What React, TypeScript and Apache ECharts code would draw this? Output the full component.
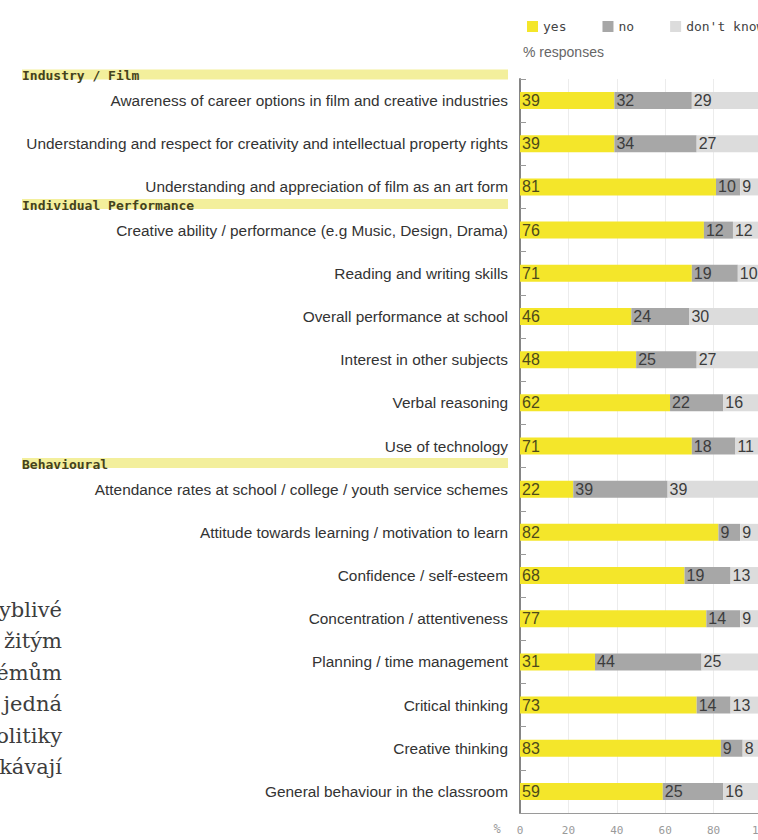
import React, { useEffect, useRef } from "react";
import * as echarts from "echarts";

const categories = [
  "Awareness of career options in film and creative industries",
  "Understanding and respect for creativity and intellectual property rights",
  "Understanding and appreciation of film as an art form",
  "Creative ability / performance (e.g Music, Design, Drama)",
  "Reading and writing skills",
  "Overall performance at school",
  "Interest in other subjects",
  "Verbal reasoning",
  "Use of technology",
  "Attendance rates at school / college / youth service schemes",
  "Attitude towards learning / motivation to learn",
  "Confidence / self-esteem",
  "Concentration / attentiveness",
  "Planning / time management",
  "Critical thinking",
  "Creative thinking",
  "General behaviour in the classroom",
];
const yesValues = [39, 39, 81, 76, 71, 46, 48, 62, 71, 22, 82, 68, 77, 31, 73, 83, 59];
const noValues = [32, 34, 10, 12, 19, 24, 25, 22, 18, 39, 9, 19, 14, 44, 14, 9, 25];
const dontKnowValues = [29, 27, 9, 12, 10, 30, 27, 16, 11, 39, 9, 13, 9, 25, 13, 8, 16];
const seriesNames = ["yes", "no", "don't know"];
const xMin = 0;
const xMax = 100;
const xInterval = 20;
const sectionTitles = ["Industry / Film", "Individual Performance", "Behavioural"];
const sectionStartIndex = [0, 3, 9];
const sideTextLines = ["yblivé", "žitým", "émům", "jedná", "olitiky", "kávají"];

const YELLOW = "#f4e62a";
const GREY = "#a7a7a7";
const LIGHT = "#dcdcdc";
const MONO = "'DejaVu Sans Mono', monospace";
const SANS = "'Liberation Sans', Arial, sans-serif";

export default function App() {
  const ref = useRef<HTMLDivElement>(null);
  useEffect(() => {
    if (!ref.current) return;
    const chart = echarts.init(ref.current, null, { renderer: "svg" });
    const labelCfg = (color: string) => ({
      show: true,
      position: "insideLeft" as const,
      distance: 2,
      color,
      fontFamily: SANS,
      fontSize: 16,
      formatter: "{c}",
    });
    const colors = [YELLOW, GREY, LIGHT];
    const values = [yesValues, noValues, dontKnowValues];
    const labelColors = ["#4d4a1a", "#3c3c3c", "#3c3c3c"];
    chart.setOption({
      animation: false,
      color: colors,
      legend: {
        left: 522,
        top: 15,
        icon: "rect",
        itemWidth: 11,
        itemHeight: 11,
        itemGap: 36,
        textStyle: { fontFamily: MONO, fontSize: 13, color: "#444" },
        data: seriesNames,
      },
      grid: { left: 520, top: 79, width: 242, height: 734, outerBoundsMode: "none" },
      xAxis: {
        type: "value",
        min: xMin,
        max: xMax,
        interval: xInterval,
        axisLine: { show: true, lineStyle: { color: "#9a9a9a", width: 1 } },
        axisTick: { show: false },
        axisLabel: { color: "#9a9a9a", fontFamily: MONO, fontSize: 11, margin: 12 },
        splitLine: { show: true, lineStyle: { color: "#ececec", width: 1 } },
      },
      yAxis: {
        type: "category",
        inverse: true,
        data: categories,
        axisLine: { show: true, lineStyle: { color: "#858585", width: 2 } },
        axisTick: { show: true, inside: true, length: 6, lineStyle: { color: "#999", width: 1 } },
        axisLabel: { color: "#333", fontFamily: SANS, fontSize: 15.4, margin: 12, padding: [0, 0, 4, 0] },
        splitLine: { show: false },
      },
      series: seriesNames.map((name, i) => ({
        name,
        type: "bar",
        stack: "total",
        barWidth: 17,
        data: values[i],
        itemStyle: { color: colors[i] },
        label: labelCfg(labelColors[i]),
      })),
    });

    const c0 = chart.convertToPixel({ yAxisIndex: 0 }, 0) as number;
    const c1 = chart.convertToPixel({ yAxisIndex: 0 }, 1) as number;
    const band = c1 - c0;
    const graphics: any[] = [];
    sectionTitles.forEach((title, k) => {
      const cy = (chart.convertToPixel({ yAxisIndex: 0 }, sectionStartIndex[k]) as number) - band / 2 - 4.5;
      graphics.push({
        type: "rect",
        shape: { x: 22, y: cy - 5, width: 486, height: 10 },
        style: { fill: "#f3ef9c" },
        silent: true,
      });
      graphics.push({
        type: "text",
        x: 22,
        y: cy + 1,
        style: {
          text: title,
          font: `bold 13px ${MONO}`,
          fill: "#44421c",
          textVerticalAlign: "middle",
          textAlign: "left",
        },
        silent: true,
      });
    });
    graphics.push({
      type: "text",
      x: 523,
      y: 52,
      style: { text: "% responses", font: `14px ${SANS}`, fill: "#666", textVerticalAlign: "middle" },
    });
    const lastY = chart.convertToPixel({ yAxisIndex: 0 }, categories.length - 1) as number;
    graphics.push({
      type: "text",
      x: 497,
      y: lastY + band / 2 + 16,
      style: { text: "%", font: `12px ${MONO}`, fill: "#9a9a9a", textAlign: "center", textVerticalAlign: "middle" },
    });
    sideTextLines.forEach((t, i) => {
      graphics.push({
        type: "text",
        x: 62,
        y: 610 + i * 31.4,
        style: {
          text: t,
          font: `21px 'DejaVu Serif', 'Liberation Serif', serif`,
          fill: "#3d3d3d",
          textAlign: "right",
          textVerticalAlign: "middle",
        },
      });
    });
    chart.setOption({ graphic: graphics });
    return () => chart.dispose();
  }, []);
  return (
    <div
      style={{ position: "absolute", left: 0, top: 0, width: 758, height: 840, overflow: "hidden", background: "#fff" }}
    >
      <div ref={ref} style={{ width: 820, height: 840 }} />
    </div>
  );
}
